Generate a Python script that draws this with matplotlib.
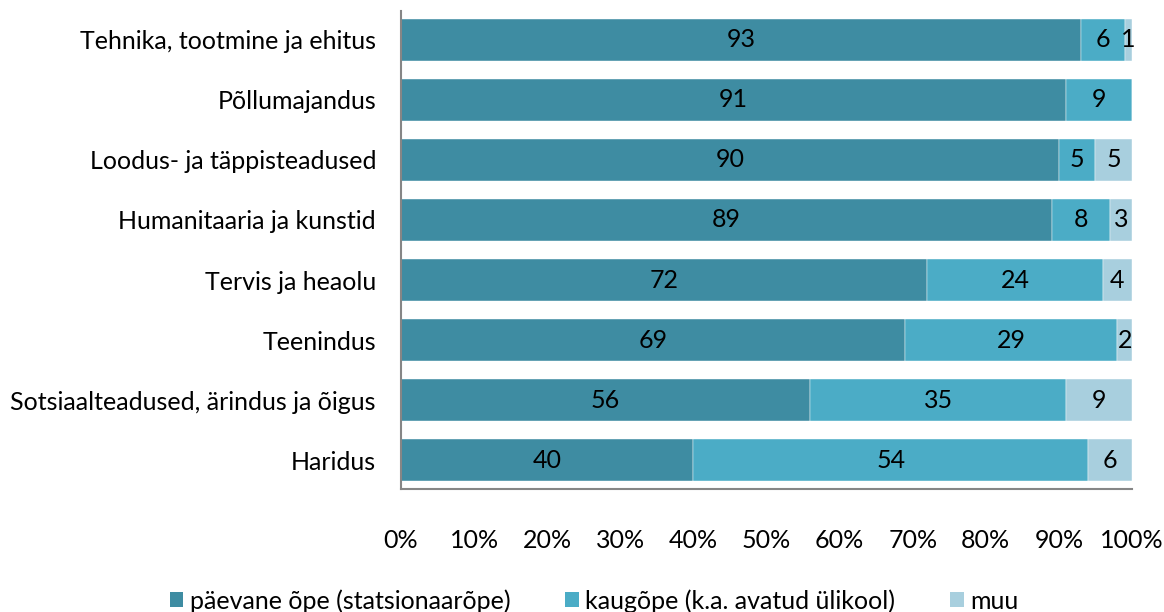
import matplotlib
matplotlib.use("Agg")
import matplotlib.pyplot as plt
from matplotlib.patches import Patch

plt.rcParams['font.family'] = ['Lato', 'DejaVu Sans']

categories = ["Tehnika, tootmine ja ehitus", "Põllumajandus", "Loodus- ja täppisteadused",
              "Humanitaaria ja kunstid", "Tervis ja heaolu", "Teenindus",
              "Sotsiaalteadused, ärindus ja õigus", "Haridus"]
paevane = [93, 91, 90, 89, 72, 69, 56, 40]
kaug = [6, 9, 5, 8, 24, 29, 35, 54]
muu = [1, 0, 5, 3, 4, 2, 9, 6]
series_names = ["päevane õpe (statsionaarõpe)", "kaugõpe (k.a. avatud ülikool)", "muu"]
colors = ["#3E8CA2", "#4BACC6", "#A8CFDE"]
ticks = [0, 10, 20, 30, 40, 50, 60, 70, 80, 90, 100]

FS = 18
fig = plt.figure(figsize=(11.64, 6.12), dpi=100)
ax = fig.add_axes([401/1164, 1-489/612, 731/1164, 478/612])

y = list(range(len(categories)))
left = [0]*len(categories)
for vals, col in zip([paevane, kaug, muu], colors):
    ax.barh(y, vals, left=left, height=0.7, color=col, edgecolor='white', linewidth=0.3)
    for yi, l, v in zip(y, left, vals):
        if v > 0:
            ax.text(l + v/2, yi, str(v), ha='center', va='center', fontsize=FS, color='black')
    left = [a+b for a, b in zip(left, vals)]

ax.set_ylim(len(categories)-0.52, -0.48)
ax.set_xlim(0, 100)
ax.set_yticks(y)
ax.set_yticklabels(categories, fontsize=FS)
ax.set_xticks(ticks)
ax.set_xticklabels([f"{t}%" for t in ticks], fontsize=FS)
ax.tick_params(axis='both', length=0)
ax.tick_params(axis='x', pad=29)
ax.tick_params(axis='y', pad=18)
for s in ['top', 'right']:
    ax.spines[s].set_visible(False)
for s in ['left', 'bottom']:
    ax.spines[s].set_color('#868686')
    ax.spines[s].set_linewidth(1.5)

handles = [Patch(facecolor=c, label=n) for c, n in zip(colors, series_names)]
fig.legend(handles=handles, loc='center', bbox_to_anchor=(594/1164, 1-601/612), ncol=3,
           frameon=False, fontsize=FS, handlelength=0.55, handleheight=0.55, handletextpad=0.25,
           columnspacing=2.2, borderpad=0)

fig.savefig("out.png", dpi=100)
